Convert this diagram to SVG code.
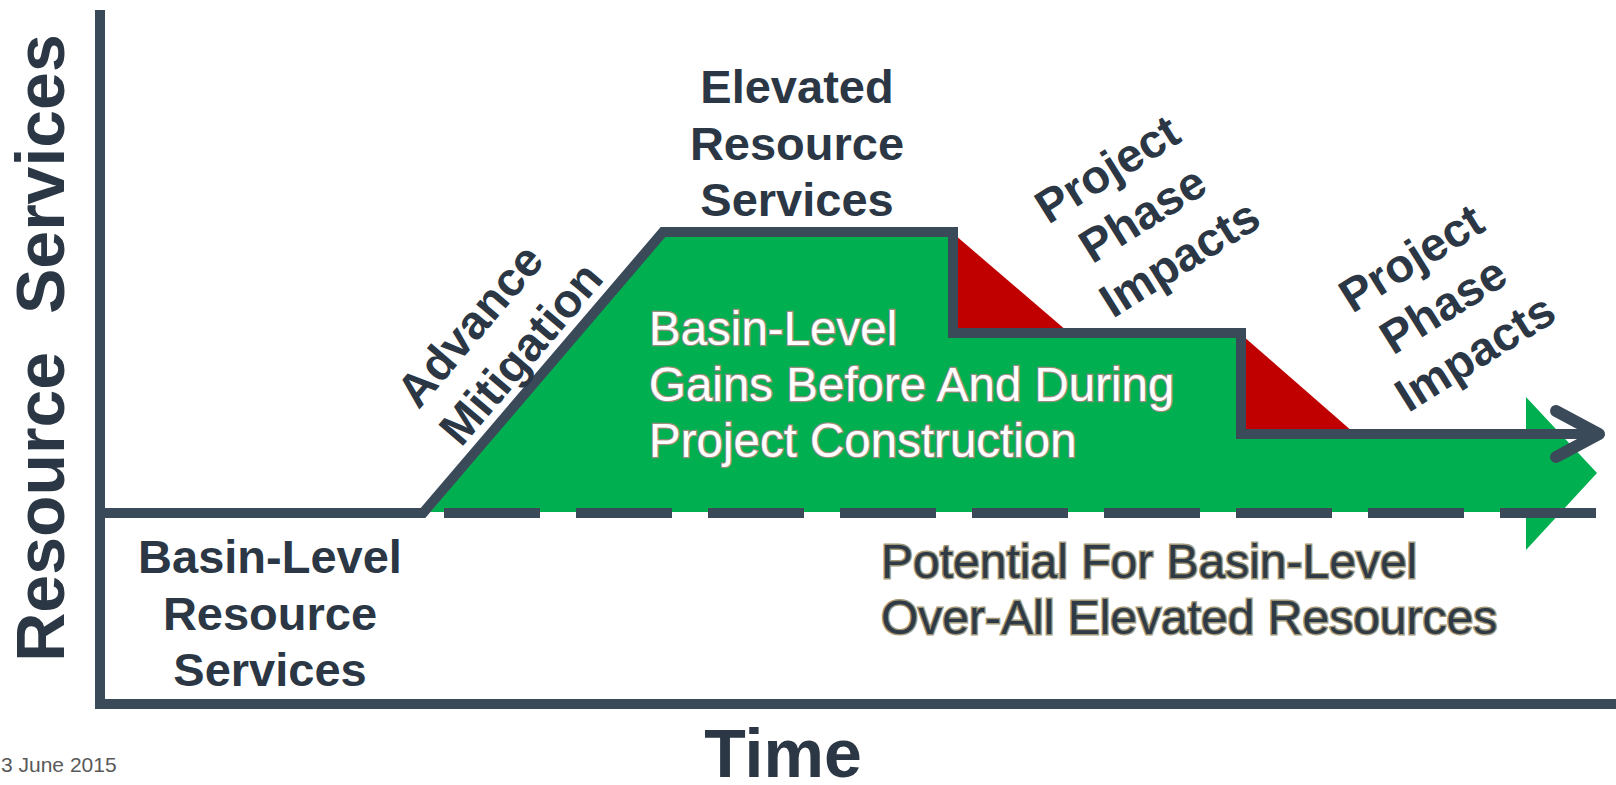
<svg xmlns="http://www.w3.org/2000/svg" width="1616" height="785" viewBox="0 0 1616 785">
<style>
.ax{fill:none;stroke:#3A4A59;stroke-width:10}
.ln{fill:none;stroke:#3A4A59;stroke-width:10;stroke-linejoin:miter}
.bold{font-family:"Liberation Sans",Arial,sans-serif;font-weight:bold;fill:#2B3744}
.lbl{font-size:47px;text-anchor:middle}
.gain{font-family:"Liberation Sans",Arial,sans-serif;font-size:47.5px;fill:#FFFFFF;stroke:#9A8C7E;stroke-width:2.4;paint-order:stroke}
.pot{font-family:"Liberation Sans",Arial,sans-serif;font-size:48px;fill:#2E3A46;stroke:#A39877;stroke-width:2.8;paint-order:stroke}
</style>
<rect width="1616" height="785" fill="#FFFFFF"/>
<g id="axes">
<path class="ax" d="M100,10 L100,704 L1616,704"/>
</g>
<g id="gains-area">
<polygon points="430,512 663,236 953,236 953,333 1241,333 1241,434 1526,434 1526,397 1597,473 1526,550 1526,512" fill="#00B050"/>
<polygon points="955,235 955,331 1067,331" fill="#C00000"/>
<polygon points="1243,336 1243,432 1353,432" fill="#C00000"/>
</g>
<g id="connectors">
<path class="ln" d="M100,513 L423,513 L663,232 L953,232 L953,333 L1241,333 L1241,434 L1596,434"/>
<path d="M1556,411 L1599,434 L1556,457" fill="none" stroke="#3A4A59" stroke-width="12" stroke-linecap="round" stroke-linejoin="round"/>
<path d="M444,513 L1596,513" fill="none" stroke="#3A4A59" stroke-width="10" stroke-dasharray="96 36"/>
</g>
<g id="y-axis-label">
<text class="bold" font-size="68" text-anchor="middle" transform="translate(64,348) rotate(-90)" xml:space="preserve">Resource  Services</text>
</g>
<g id="x-axis-label">
<text class="bold" font-size="68" text-anchor="middle" x="783" y="777">Time</text>
</g>
<g id="date">
<text x="1" y="772" font-family="Liberation Sans,Arial,sans-serif" font-size="21" fill="#595959">3 June 2015</text>
</g>
<g id="elevated">
<text class="bold lbl" x="797" y="103">Elevated</text>
<text class="bold lbl" x="797" y="160">Resource</text>
<text class="bold lbl" x="797" y="216">Services</text>
</g>
<g id="basin-level">
<text class="bold lbl" x="270" y="573">Basin-Level</text>
<text class="bold lbl" x="270" y="630">Resource</text>
<text class="bold lbl" x="270" y="686">Services</text>
</g>
<g id="advance-mitigation" transform="translate(482,336) rotate(-49.5)">
<text class="bold lbl" x="0" y="0">Advance</text>
<text class="bold lbl" x="12" y="57">Mitigation</text>
</g>
<g id="impacts-1" transform="translate(1146,231) rotate(-32)">
<text class="bold lbl" x="0" y="-57">Project</text>
<text class="bold lbl" x="6" y="0">Phase</text>
<text class="bold lbl" x="14" y="57">Impacts</text>
</g>
<g id="impacts-2" transform="translate(1450,320) rotate(-32)">
<text class="bold lbl" x="0" y="-57">Project</text>
<text class="bold lbl" x="2" y="0">Phase</text>
<text class="bold lbl" x="4" y="57">Impacts</text>
</g>
<g id="gains-text">
<text class="gain" x="649" y="345">Basin-Level</text>
<text class="gain" x="649" y="401">Gains Before And During</text>
<text class="gain" x="649" y="457">Project Construction</text>
</g>
<g id="potential-text">
<text class="pot" x="881" y="578">Potential For Basin-Level</text>
<text class="pot" x="881" y="634">Over-All Elevated Resources</text>
</g>
</svg>
